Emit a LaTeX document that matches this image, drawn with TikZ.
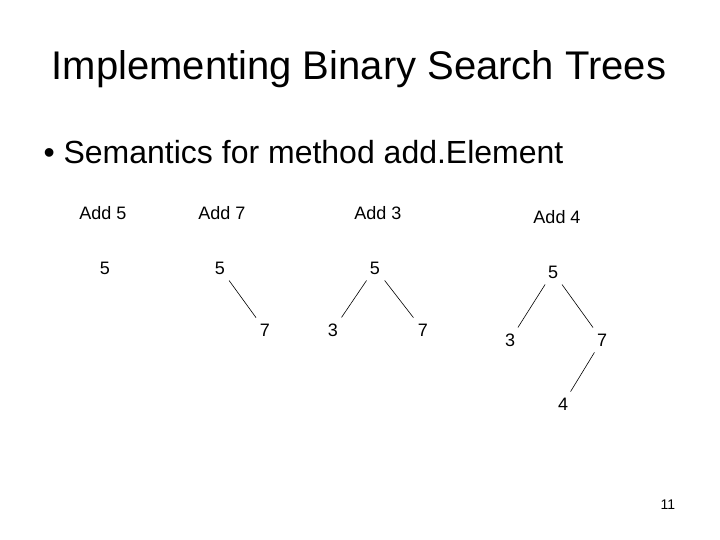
\documentclass[tikz,border=0pt]{standalone}
\usepackage{fontspec}
\setmainfont{Liberation Sans}
\begin{document}
\begin{tikzpicture}[x=1pt,y=-1pt,
  nd/.style={font=\fontsize{18}{22}\selectfont,inner sep=6pt},
  lbl/.style={font=\fontsize{18}{22}\selectfont},
  edge/.style={draw=black,line width=0.6pt}]
\useasboundingbox (0,0) rectangle (720,540);
\node (title) at (359,69) {\fontsize{40}{48}\selectfont Implementing Binary Search Trees};
\node[anchor=west] (bullet) at (40,152) {\fontsize{32}{38}\selectfont \textbullet\ Semantics for method add.Element};
\node[lbl] (a5) at (103,213) {Add 5};
\node[lbl] (a7) at (222,213) {Add 7};
\node[lbl] (a3) at (378,213) {Add 3};
\node[lbl] (a4) at (557,217) {Add 4};
\node[nd] (t1) at (105,268) {5};
\node[nd] (t2r) at (220,268) {5};
\node[nd] (t2b) at (265,330) {7};
\node[nd] (t3r) at (375,268) {5};
\node[nd] (t3a) at (333,330) {3};
\node[nd] (t3b) at (423,330) {7};
\node[nd] (t4r) at (553,272) {5};
\node[nd] (t4a) at (510,340) {3};
\node[nd] (t4b) at (602,340) {7};
\node[nd] (t4c) at (563,404) {4};
\draw[edge] (t2r) -- (t2b);
\draw[edge] (t3r) -- (t3a);
\draw[edge] (t3r) -- (t3b);
\draw[edge] (t4r) -- (t4a);
\draw[edge] (t4r) -- (t4b);
\draw[edge] (t4b) -- (t4c);
\node (pg) at (668,505) {\fontsize{14}{16}\selectfont 11};
\end{tikzpicture}
\end{document}
